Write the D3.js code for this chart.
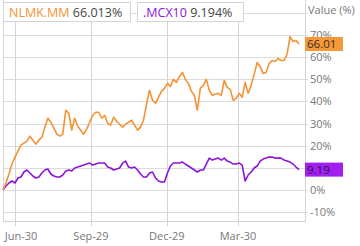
<!DOCTYPE html>
<html>
<head>
<meta charset="utf-8">
<script src="https://cdn.jsdelivr.net/npm/d3@7"></script>
<style>
  body { margin: 0; background: #fff; }
  svg { display: block; font-family: "Open Sans", sans-serif; }
</style>
</head>
<body>
<div id="chart"></div>
<script>
// series values (% change), sampled evenly over the period
let nlmk = [0, 3.15, 7.21, 11.71, 14.86, 17.57, 20.27, 21.17, 22.07, 24.32,
  22.52, 20.72, 22.52, 23.87, 28.38, 32.43, 30.63, 27.93, 25.23, 24.32,
  25.23, 36.04, 34.68, 27.03, 32.43, 28.83, 27.03, 25.23, 27.48, 30.63,
  33.78, 35.14, 35.14, 32.43, 33.78, 30.18, 29.28, 32.88, 31.08, 29.73,
  28.38, 29.73, 30.63, 31.53, 29.28, 27.03, 28.38, 31.53, 38.74, 45.05,
  40.54, 39.19, 41.89, 44.59, 45.95, 48.2, 46.85, 50.0, 48.65, 51.35,
  53.15, 50.0, 48.2, 44.59, 42.79, 36.04, 45.95, 47.3, 50.0, 45.05,
  42.79, 43.24, 43.69, 42.79, 49.55, 46.4, 45.5, 40.54, 41.44, 43.69,
  41.89, 48.65, 43.69, 47.3, 52.25, 57.66, 55.86, 52.7, 53.15, 57.21,
  58.56, 58.11, 59.46, 58.56, 58.56, 61.26, 69.37, 67.12, 67.57, 66.01];

let mcx = [0, 1.8, 3.15, 4.05, 3.15, 5.41, 5.86, 8.11, 9.01, 7.66,
  6.31, 5.41, 5.86, 7.66, 9.01, 9.46, 7.21, 6.31, 5.86, 5.86,
  6.76, 8.56, 9.01, 8.56, 9.91, 10.36, 10.81, 11.26, 11.71, 12.16,
  11.26, 11.71, 12.16, 12.16, 12.16, 10.36, 9.91, 9.01, 9.46, 9.91,
  12.16, 13.06, 10.36, 9.91, 10.36, 9.01, 7.21, 5.86, 5.86, 7.66,
  8.11, 5.41, 4.05, 3.6, 3.6, 7.66, 10.81, 12.16, 12.16, 12.16,
  12.61, 11.71, 10.81, 9.91, 9.01, 8.11, 9.01, 9.01, 11.71, 14.41,
  13.51, 13.96, 14.41, 13.51, 14.41, 13.06, 12.61, 11.71, 11.71, 12.16,
  11.26, 4.05, 6.76, 8.11, 9.91, 10.81, 13.06, 13.96, 14.41, 14.86,
  14.86, 14.41, 14.41, 14.41, 13.51, 13.06, 12.61, 11.71, 10.36, 9.194];

let seriesNames = ['NLMK.MM', '.MCX10'];
let lastValues = [66.013, 9.194];
let endLabels = ['66.01', '9.19'];

// x tick labels and where they fall in the sample index
let xTickLabels = ['Jun-30', 'Sep-29', 'Dec-29', 'Mar-30'];
let xTickIdx = [4, 29.4, 54.8, 78.6];
let yTicks = [-10, 0, 10, 20, 30, 40, 50, 60, 70];
let yGrid = [-10, 0, 10, 20, 30, 40, 50, 60, 70, 80];

let colors = ['#f39333', '#8c14d9'];
let boxFill = ['#f6993a', '#a21ff2'];

let width = 360, height = 246;
let margin = { top: 2, left: 3, right: 55, bottom: 24 };

let svg = d3.select('#chart').append('svg')
  .attr('width', width)
  .attr('height', height);

let xScale = d3.scaleLinear()
  .domain([0, nlmk.length - 1])
  .range([3, 299]);

let yScale = d3.scaleLinear()
  .domain([-14.5, 85])
  .range([height - margin.bottom, margin.top]);

let plotRight = width - margin.right;

// horizontal grid lines
svg.append('g').selectAll('line')
  .data(yGrid).join('line')
  .attr('x1', margin.left).attr('x2', plotRight + 3)
  .attr('y1', d => Math.round(yScale(d)) + 0.5)
  .attr('y2', d => Math.round(yScale(d)) + 0.5)
  .attr('stroke', '#dcdcdc');

// vertical grid lines at date ticks
svg.append('g').selectAll('line')
  .data(xTickIdx).join('line')
  .attr('x1', d => Math.round(xScale(d)) + 0.5)
  .attr('x2', d => Math.round(xScale(d)) + 0.5)
  .attr('y1', margin.top).attr('y2', height - margin.bottom + 4)
  .attr('stroke', '#d4d4d4');

// plot frame
svg.append('rect')
  .attr('x', margin.left + 0.5).attr('y', margin.top - 2.5)
  .attr('width', plotRight - margin.left)
  .attr('height', height - margin.bottom - margin.top + 2)
  .attr('fill', 'none')
  .attr('stroke', '#d4d4d4');

// y axis labels on the right
svg.append('g').selectAll('text')
  .data(yTicks).join('text')
  .attr('x', plotRight + 5)
  .attr('y', d => yScale(d) + 4)
  .attr('font-size', 11)
  .attr('fill', '#777')
  .text(d => d + '%');

svg.append('text')
  .attr('x', plotRight + 3).attr('y', 14)
  .attr('font-size', 11).attr('fill', '#777')
  .text('Value (%)');

// x labels (first one is kept inside the frame)
svg.append('g').selectAll('text')
  .data(xTickIdx).join('text')
  .attr('x', d => Math.max(xScale(d), margin.left + 18))
  .attr('y', height - 6)
  .attr('text-anchor', 'middle')
  .attr('font-size', 11)
  .attr('fill', '#777')
  .text((d, i) => xTickLabels[i]);

// lines
let line = d3.line()
  .x((d, i) => xScale(i))
  .y(d => yScale(d));

[mcx, nlmk].forEach(function(s, k) {
  svg.append('path')
    .attr('d', line(s))
    .attr('fill', 'none')
    .attr('stroke', colors[1 - k])
    .attr('stroke-width', 1.6)
    .attr('stroke-linejoin', 'round');
});

// end value boxes
[nlmk, mcx].forEach(function(s, k) {
  let yv = yScale(s[s.length - 1]);
  svg.append('rect')
    .attr('x', plotRight).attr('y', yv - 7)
    .attr('width', 38).attr('height', 14)
    .attr('fill', boxFill[k]);
  svg.append('text')
    .attr('x', plotRight + 2).attr('y', yv + 4)
    .attr('font-size', 11.5)
    .attr('fill', k === 0 ? '#3a2a1a' : '#2a1040')
    .text(endLabels[k]);
});

// legend boxes
let legendX = [3, 137], legendW = [127, 106];
seriesNames.forEach(function(name, k) {
  let g = svg.append('g').attr('transform', 'translate(' + legendX[k] + ',2)');
  g.append('rect')
    .attr('x', 0.5).attr('y', 0.5)
    .attr('width', legendW[k]).attr('height', 19)
    .attr('fill', '#fff').attr('stroke', '#d4d4d4');
  let t = g.append('text').attr('x', 6).attr('y', 15).attr('font-size', 12.5);
  t.append('tspan').attr('fill', colors[k]).text(name);
  t.append('tspan').attr('fill', '#444').text(' ' + lastValues[k].toFixed(3) + '%');
});
</script>
</body>
</html>
